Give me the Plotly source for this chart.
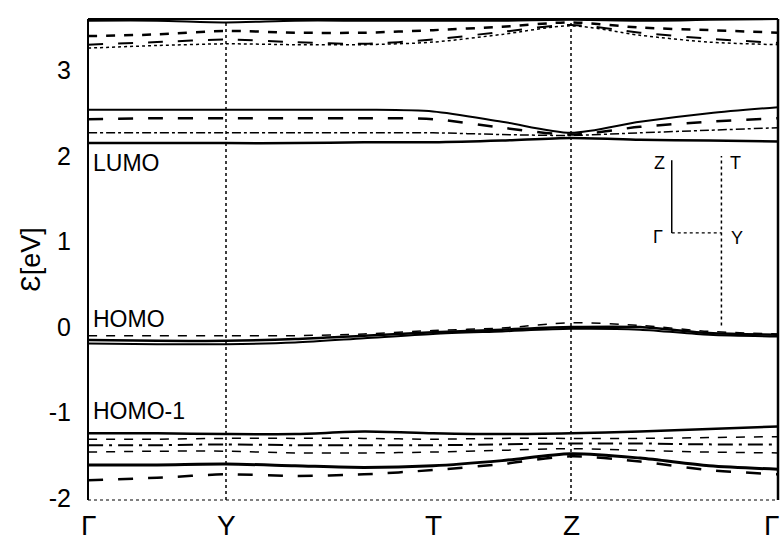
import plotly.graph_objects as go

# k-path positions (relative distances along path)
k_labels = ["Γ", "Y", "T", "Z", "Γ"]
k_ticks = [0.0, 1.0, 2.5, 3.5, 5.0]
k = [0.0, 0.5, 1.0, 1.5, 2.0, 2.5, 3.0, 3.5, 4.0, 4.5, 5.0]

# upper conduction bands
u1 = [3.58, 3.58, 3.56, 3.58, 3.58, 3.58, 3.58, 3.59, 3.58, 3.59, 3.60]
u2 = [3.40, 3.42, 3.46, 3.44, 3.44, 3.47, 3.51, 3.56, 3.50, 3.47, 3.44]
u3 = [3.30, 3.33, 3.36, 3.33, 3.31, 3.36, 3.45, 3.53, 3.44, 3.37, 3.32]
u4 = [3.26, 3.29, 3.31, 3.30, 3.30, 3.33, 3.42, 3.52, 3.41, 3.33, 3.30]
# lower conduction bands (LUMO group)
c1 = [2.15, 2.15, 2.15, 2.15, 2.16, 2.16, 2.18, 2.21, 2.19, 2.18, 2.17]
c2 = [2.27, 2.27, 2.27, 2.27, 2.27, 2.27, 2.25, 2.24, 2.27, 2.30, 2.33]
c3 = [2.43, 2.44, 2.44, 2.44, 2.44, 2.43, 2.33, 2.25, 2.34, 2.40, 2.44]
c4 = [2.54, 2.54, 2.54, 2.54, 2.54, 2.52, 2.40, 2.27, 2.40, 2.50, 2.57]
# HOMO group
h0 = [-0.10, -0.10, -0.10, -0.10, -0.08, -0.04, -0.01, 0.05, 0.02, -0.05, -0.08]
h1 = [-0.15, -0.16, -0.16, -0.14, -0.10, -0.06, -0.03, 0.00, 0.00, -0.07, -0.09]
h2 = [-0.19, -0.20, -0.20, -0.18, -0.13, -0.08, -0.05, -0.02, -0.03, -0.09, -0.11]
# HOMO-1 group
l1 = [-1.24, -1.24, -1.25, -1.25, -1.22, -1.24, -1.25, -1.24, -1.22, -1.19, -1.16]
l2 = [-1.31, -1.31, -1.30, -1.30, -1.30, -1.31, -1.30, -1.30, -1.30, -1.29, -1.28]
l3 = [-1.38, -1.38, -1.37, -1.38, -1.38, -1.38, -1.37, -1.36, -1.36, -1.37, -1.37]
l4 = [-1.46, -1.45, -1.45, -1.47, -1.47, -1.46, -1.44, -1.42, -1.44, -1.46, -1.47]
l5 = [-1.61, -1.61, -1.60, -1.62, -1.64, -1.62, -1.56, -1.48, -1.53, -1.62, -1.66]
l6 = [-1.79, -1.76, -1.72, -1.74, -1.72, -1.67, -1.60, -1.51, -1.57, -1.67, -1.72]

y_ticks = [-2, -1, 0, 1, 2, 3]
y_ticktext = ["-2", "-1", "0", "1", "2", "3"]

bands = [
    (u1, "solid", 2.0), (u2, "dash", 2.5), (u3, "longdash", 2.0), (u4, "dot", 1.5),
    (c1, "solid", 2.5), (c2, "dashdot", 1.5), (c3, "longdash", 2.5), (c4, "solid", 2.0),
    (h0, "dash", 1.5), (h1, "solid", 2.5), (h2, "solid", 2.0),
    (l1, "solid", 2.5), (l2, "dash", 1.5), (l3, "longdashdot", 2.0), (l4, "dash", 1.5),
    (l5, "solid", 3.0), (l6, "longdash", 2.5),
]

fig = go.Figure()
for vals, dash, w in bands:
    fig.add_trace(go.Scatter(x=k, y=vals, mode="lines",
                             line=dict(color="black", width=w, dash=dash, shape="spline", smoothing=0.8),
                             showlegend=False, hoverinfo="skip"))

# vertical dotted lines at Y and Z
for xv in [k_ticks[1], k_ticks[3]]:
    fig.add_shape(type="line", x0=xv, x1=xv, y0=0, y1=1, xref="x", yref="paper",
                  line=dict(color="black", width=1.5, dash="dot"))

# inset Brillouin-zone path sketch
inset_gz_x = 4.23
inset_ty_x = 4.59
inset_bottom = 1.1
fig.add_shape(type="line", x0=inset_gz_x, x1=inset_gz_x, y0=inset_bottom, y1=1.95,
              line=dict(color="black", width=1.5))
fig.add_shape(type="line", x0=inset_gz_x, x1=inset_ty_x, y0=inset_bottom, y1=inset_bottom,
              line=dict(color="black", width=1.2, dash="dot"))
fig.add_shape(type="line", x0=inset_ty_x, x1=inset_ty_x, y0=0.02, y1=2.0,
              line=dict(color="black", width=1.5, dash="dot"))

inset_labels = [("Z", 4.14, 1.92), ("T", 4.69, 1.92), ("Γ", 4.13, 1.05), ("Y", 4.70, 1.04)]
for txt, xx, yy in inset_labels:
    fig.add_annotation(x=xx, y=yy, text=txt, showarrow=False, xref="x", yref="y",
                       font=dict(family="Liberation Sans", size=18, color="black"))

for txt, yy in [("LUMO", 1.92), ("HOMO", 0.1), ("HOMO-1", -0.98)]:
    fig.add_annotation(x=0.02, y=yy, text=txt, showarrow=False, xref="x", yref="y",
                       xanchor="left", font=dict(family="Liberation Sans", size=23, color="black"))

# k-point labels drawn as annotations so the edge label at the right is not dropped
for lab, xv in zip(k_labels, k_ticks):
    fig.add_annotation(x=xv, y=0, xref="x", yref="paper", text=lab, showarrow=False,
                       yanchor="top", yshift=-8, xshift=(-7 if xv == k_ticks[-1] else 0),
                       font=dict(family="Liberation Sans", size=28, color="black"))

fig.update_layout(
    width=784, height=549,
    margin=dict(l=88, r=6, t=19, b=49),
    paper_bgcolor="white", plot_bgcolor="white",
    font=dict(family="Liberation Sans", color="black"),
    xaxis=dict(range=[0, 5], showticklabels=False,
               showgrid=False, zeroline=False, showline=False, ticks=""),
    yaxis=dict(range=[-2.02, 3.60], tickmode="array", tickvals=y_ticks, ticktext=y_ticktext,
               showgrid=False, zeroline=False, showline=False, ticks="",
               ticklabelstandoff=16,
               tickfont=dict(family="Liberation Sans", size=25),
               title=dict(text="Ɛ[eV]", font=dict(family="Liberation Sans", size=27), standoff=0)),
)
# frame: solid left, top, right; dotted bottom
fig.add_shape(type="line", x0=0, x1=0, y0=0, y1=1, xref="paper", yref="paper", line=dict(color="black", width=2))
fig.add_shape(type="line", x0=1, x1=1, y0=0, y1=1, xref="paper", yref="paper", line=dict(color="black", width=2.5))
fig.add_shape(type="line", x0=0, x1=1, y0=1, y1=1, xref="paper", yref="paper", line=dict(color="black", width=2))
fig.add_shape(type="line", x0=0, x1=1, y0=0, y1=0, xref="paper", yref="paper", line=dict(color="black", width=1, dash="dot"))

fig.write_html("out.html")
